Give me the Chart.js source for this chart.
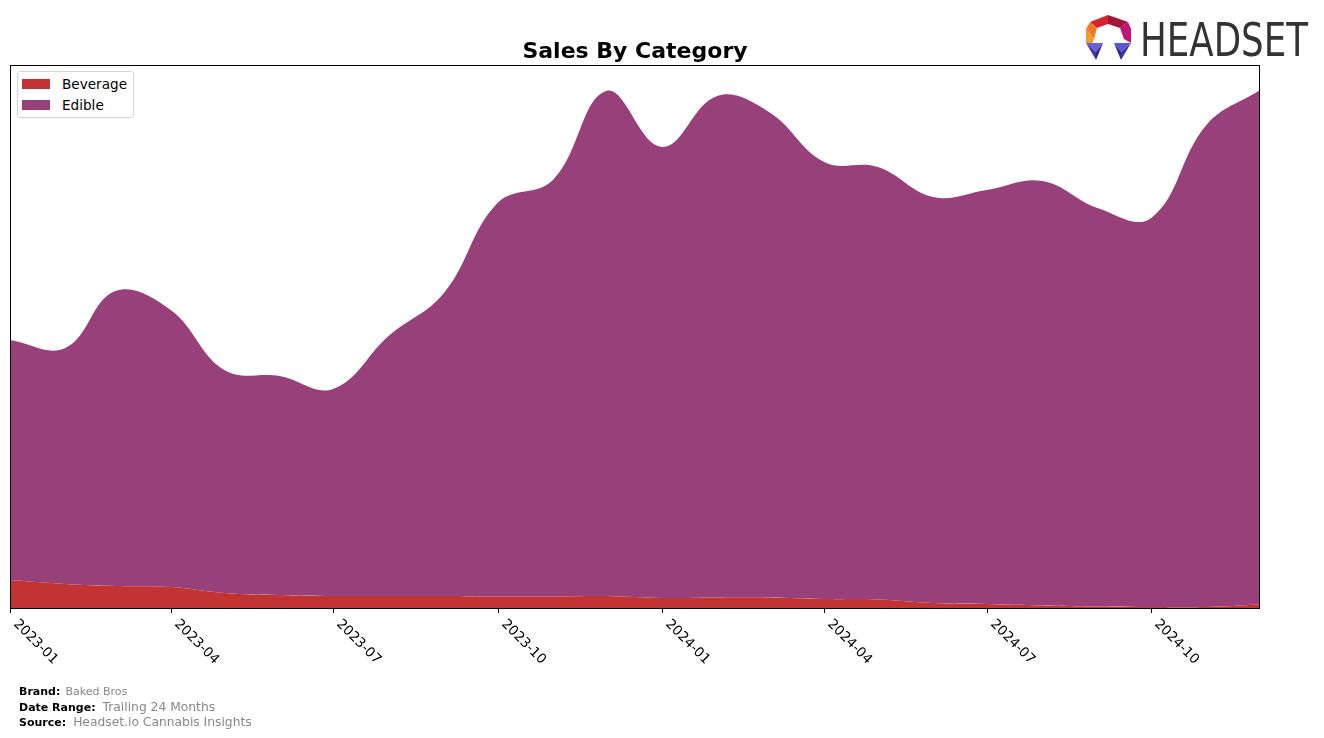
<!DOCTYPE html>
<html><head><meta charset="utf-8">
<script src="https://cdn.jsdelivr.net/npm/chart.js@4.4.1/dist/chart.umd.min.js"></script>
<style>
html,body{margin:0;padding:0;background:#fff;width:1324px;height:738px;overflow:hidden;font-family:"DejaVu Sans",sans-serif;}
#c{position:absolute;left:0;top:0;}
#title{position:absolute;left:10px;width:1250px;top:38px;text-align:center;font-weight:bold;font-size:22px;line-height:26px;color:#000;}
#legend{position:absolute;left:17px;top:71px;width:115px;height:45px;border:1px solid #d6d6d6;border-radius:3px;background:#fff;font-size:13.6px;}
.li{position:absolute;left:4px;height:14px;line-height:14px;white-space:nowrap;color:#000;}
.sw{display:inline-block;width:28px;height:10px;vertical-align:middle;margin-right:12px;position:relative;top:-1px;}
#foot{position:absolute;left:19px;top:683px;color:#000;}
.fl{position:absolute;left:0;white-space:nowrap;line-height:14px;}
.fl b{font-size:11px;}
.g{color:#888;}
#logo{position:absolute;left:1084px;top:12px;}
</style></head>
<body>
<canvas id="c" width="1324" height="738"></canvas>
<div id="title">Sales By Category</div>
<div id="legend"></div>
<div id="foot">
  <div class="fl" style="top:0px"><b>Brand:</b> <span class="g" style="font-size:11px">Baked Bros</span></div>
  <div class="fl" style="top:16px"><b>Date Range:</b><span class="g" style="font-size:12.3px;margin-left:7px">Trailing 24 Months</span></div>
  <div class="fl" style="top:31px"><b>Source:</b><span class="g" style="font-size:12.3px;margin-left:7px">Headset.io Cannabis Insights</span></div>
</div>
<svg id="logo" width="230" height="52" viewBox="0 0 230 52">
  <polygon points="6,10 24,3 24,12 13,16" fill="#d6232e"/>
  <polygon points="24,3 44,10 36,16 24,12" fill="#a3173a"/>
  <polygon points="2,17 6,10 13,16 10,27" fill="#f0792a"/>
  <polygon points="2,17 10,27 8,32 2,31" fill="#f39a2c"/>
  <polygon points="44,10 47,17 47,31 40,27 36,16" fill="#c0147a"/>
  <polygon points="2,31 19,31 12,40" fill="#6a5fd6"/>
  <polygon points="2,31 12,40 12,48" fill="#3c3aa8"/>
  <polygon points="12,40 19,31 12,48" fill="#2a2680"/>
  <polygon points="30,31 47,31 37,40" fill="#5a55d0"/>
  <polygon points="47,31 37,40 37,48" fill="#3a37a6"/>
  <polygon points="30,31 37,40 37,48" fill="#27247c"/>
  <text x="56" y="44" font-family="DejaVu Sans Condensed, Liberation Sans Narrow, sans-serif" font-size="47" fill="#333333" textLength="168" lengthAdjust="spacingAndGlyphs">HEADSET</text>
</svg>
<script>
const months = ["2023-01","2023-02","2023-03","2023-04","2023-05","2023-06","2023-07","2023-08","2023-09","2023-10","2023-11","2023-12",
                "2024-01","2024-02","2024-03","2024-04","2024-05","2024-06","2024-07","2024-08","2024-09","2024-10","2024-11","2024-12"];
const seriesNames = ["Beverage","Edible"];
const beverage = [28,24,22,21,15,13,12,12,12,11.5,11.5,12,10,10.5,10.5,9,8.5,5,4,2.5,1.5,1,1,3.5];
const edible = [240,236,295,277,223,219,207,260,303,393.5,416.5,505,451,501.5,485.5,437,432.5,406,414,424.5,398.5,389,482,514.5];
const tickLabels = ["2023-01","2023-04","2023-07","2023-10","2024-01","2024-04","2024-07","2024-10"];
const colors = ["#c23334","#974079"];

function dayOffset(lab){
  const [y,m] = lab.split("-").map(Number);
  return (Date.UTC(y,m-1,1) - Date.UTC(2023,0,1)) / 86400000;
}
const toPts = arr => arr.map((v,i)=>({x:dayOffset(months[i]), y:v}));

const framePlugin = {
  id:'frame',
  afterDraw(chart){
    const {ctx, chartArea:{left,right,top,bottom}, scales:{x}} = chart;
    ctx.save();
    ctx.strokeStyle='#000'; ctx.lineWidth=1;
    ctx.strokeRect(left+0.5, top+0.5, right-left-1, bottom-top);
    ctx.fillStyle='#000';
    ctx.font='13.6px "DejaVu Sans"';
    tickLabels.forEach(lab=>{
      const px = Math.round(x.getPixelForValue(dayOffset(lab)))+0.5;
      ctx.beginPath(); ctx.moveTo(px, bottom); ctx.lineTo(px, bottom+5); ctx.stroke();
      ctx.save();
      ctx.translate(px+25, bottom+34);
      ctx.rotate(Math.PI/4);
      ctx.textAlign='center'; ctx.textBaseline='middle';
      ctx.fillText(lab,0,0);
      ctx.restore();
    });
    ctx.restore();
  }
};

const chart = new Chart(document.getElementById('c'), {
  type:'line',
  data:{
    datasets:[
      {label:seriesNames[0], data:toPts(beverage), backgroundColor:colors[0], borderColor:colors[0], borderWidth:0, fill:'origin', pointRadius:0, tension:0.4},
      {label:seriesNames[1], data:toPts(edible), backgroundColor:colors[1], borderColor:colors[1], borderWidth:0, fill:'-1', pointRadius:0, tension:0.4}
    ]
  },
  options:{
    responsive:false, animation:false, devicePixelRatio:1,
    layout:{padding:{left:10,right:64,top:65,bottom:130}},
    plugins:{legend:{display:false}, title:{display:false}, tooltip:{enabled:false}},
    scales:{
      x:{type:'linear', display:false, min:dayOffset(months[0]), max:dayOffset(months[months.length-1])},
      y:{display:false, stacked:true, min:0, max:543}
    }
  },
  plugins:[framePlugin]
});

const leg = document.getElementById('legend');
seriesNames.forEach((n,i)=>{
  const d=document.createElement('div'); d.className='li'; d.style.top=(5+i*21)+'px';
  d.innerHTML='<span class="sw" style="background:'+colors[i]+'"></span>'+n;
  leg.appendChild(d);
});
</script>
</body></html>
